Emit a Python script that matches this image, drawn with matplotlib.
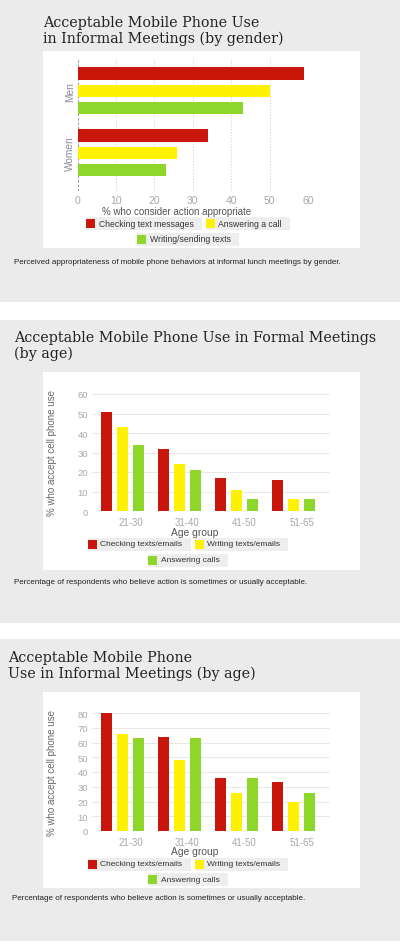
import numpy as np
import matplotlib
matplotlib.use('Agg')
import matplotlib.pyplot as plt
from matplotlib.patches import Rectangle

# data
genders = ['Men', 'Women']
gender_series = ['Checking text messages', 'Answering a call', 'Writing/sending texts']
checking_msgs = [59, 34]
answering_call = [50, 26]
writing_sending = [43, 23]

age_groups = ['21-30', '31-40', '41-50', '51-65']
age_series = ['Checking texts/emails', 'Writing texts/emails', 'Answering calls']
formal_checking = [51, 32, 17, 16]
formal_writing = [43, 24, 11, 6]
formal_calls = [34, 21, 6, 6]
informal_checking = [80, 64, 36, 33]
informal_writing = [66, 48, 26, 20]
informal_calls = [63, 63, 36, 26]

RED = '#c8170a'
YELLOW = '#fff200'
GREEN = '#8fd62a'
colors = [RED, YELLOW, GREEN]
PANEL_BG = '#ebebeb'
LEG_BG = '#eeeeee'
SANS = 'Liberation Sans'
SERIF = 'DejaVu Serif'

W, H = 400, 945
fig = plt.figure(figsize=(W / 100, H / 100), dpi=100)
fig.patch.set_facecolor('white')
renderer = fig.canvas.get_renderer()


def fx(px):
    return px / W


def fy(py):
    return 1 - py / H


def rect(x0, y0, x1, y1, color, z=-2):
    fig.patches.append(Rectangle((fx(x0), fy(y1)), (x1 - x0) / W, (y1 - y0) / H,
                                 transform=fig.transFigure, facecolor=color,
                                 edgecolor='none', zorder=z))


def axes_px(x0, y0, x1, y1):
    ax = fig.add_axes([fx(x0), fy(y1), (x1 - x0) / W, (y1 - y0) / H])
    ax.set_facecolor('none')
    for s in ax.spines.values():
        s.set_visible(False)
    return ax


def legend_rows(rows, cx, ys, fs):
    for row, yc in zip(rows, ys):
        widths = []
        for label, color in row:
            t = fig.text(0, 0, label, fontsize=fs, family=SANS)
            widths.append(12.5 + t.get_window_extent(renderer).width + 8)
            t.remove()
        total = sum(widths) + 4 * (len(row) - 1)
        x = cx - total / 2
        for (label, color), w in zip(row, widths):
            rect(x, yc - 6.5, x + w, yc + 6.5, LEG_BG, z=1)
            rect(x, yc - 4.5, x + 9, yc + 4.5, color, z=2)
            fig.text(fx(x + 12.5), fy(yc), label, fontsize=fs, family=SANS,
                     color='#333333', va='center', ha='left', zorder=3)
            x += w + 4


def title(lines, x, ys):
    for line, y in zip(lines, ys):
        fig.text(fx(x), fy(y), line, fontsize=10.3, family=SERIF,
                 color='#222222', va='baseline', ha='left')


def caption(text, x, y):
    fig.text(fx(x), fy(y), text, fontsize=5.8, family=SANS, color='#222222',
             va='center', ha='left')


# grey panels and white chart boxes
rect(0, 0, 400, 303, PANEL_BG)
rect(0, 321, 400, 624, PANEL_BG)
rect(0, 640, 400, 942, PANEL_BG)
rect(43, 52, 360, 249, 'white', z=-1)
rect(43, 373, 360, 571, 'white', z=-1)
rect(43, 693, 360, 889, 'white', z=-1)

# ---- panel 1: by gender, horizontal bars
title(['Acceptable Mobile Phone Use', 'in Informal Meetings (by gender)'], 43, [27, 42.5])
ax1 = axes_px(77.7, 60, 308, 192)
ypos = np.arange(len(genders))
slot = 0.282
for i, vals in enumerate([checking_msgs, answering_call, writing_sending]):
    ax1.barh(ypos + (i - 1) * slot, vals, height=0.194, color=colors[i], zorder=2)
ax1.set_xlim(0, 60)
ax1.set_ylim(1.613, -0.516)
ax1.set_xticks(range(0, 61, 10))
ax1.set_yticks(ypos)
ax1.set_yticklabels(genders, rotation=90, va='center', fontsize=7.3,
                    family=SANS, color='#8a8aa2')
for lab in ax1.get_xticklabels():
    lab.set_family(SANS)
ax1.tick_params(axis='x', length=0, pad=3, labelsize=7.5, labelcolor='#a8a8a8')
ax1.tick_params(axis='y', length=0, pad=2)
ax1.xaxis.grid(True, linestyle=(0, (1, 2)), color='#c8c8c8', lw=0.7)
ax1.set_axisbelow(True)
ax1.axvline(0, linestyle=(0, (2, 2)), color='#999999', lw=0.8, zorder=1)
fig.text(fx(177), fy(212), '% who consider action appropriate', fontsize=7,
         family=SANS, color='#555555', ha='center', va='center')
legend_rows([list(zip(gender_series[:2], colors[:2])), [(gender_series[2], colors[2])]],
            188, [224.5, 240], 6.2)
caption('Perceived appropriateness of mobile phone behaviors at informal lunch meetings by gender.',
        14, 262)


# ---- panels 2 and 3: by age, vertical bars
def age_panel(top, bottom, ymax, series_vals, leg_ys, xlab_y, ylab_y):
    ax = axes_px(92, top, 330, bottom)
    xpos = np.arange(len(age_groups))
    slot = 0.2807
    for i, vals in enumerate(series_vals):
        ax.bar(xpos + (i - 1.5) * slot, vals, width=0.193, color=colors[i], zorder=2)
    ax.set_xlim(-0.675, 3.5)
    ax.set_ylim(0, ymax)
    ax.set_yticks(range(0, ymax + 1, 10))
    ax.set_xticks(xpos)
    ax.set_xticklabels(age_groups)
    for lab in ax.get_xticklabels() + ax.get_yticklabels():
        lab.set_family(SANS)
    ax.tick_params(axis='x', length=0, pad=4, labelsize=7, labelcolor='#a8a8a8')
    ax.tick_params(axis='y', length=0, pad=3, labelsize=6.8, labelcolor='#a8a8a8')
    ax.yaxis.grid(True, color='#e4e4e4', lw=0.6)
    ax.set_axisbelow(True)
    ax.axhline(0, linestyle=(0, (2, 2)), color='#999999', lw=0.8, zorder=3)
    fig.text(fx(195), fy(xlab_y), 'Age group', fontsize=7.4, family=SANS,
             color='#555555', ha='center', va='center')
    fig.text(fx(52), fy(ylab_y), '% who accept cell phone use', fontsize=7,
             family=SANS, color='#666666', ha='center', va='center', rotation=90)
    legend_rows([list(zip(age_series[:2], colors[:2])), [(age_series[2], colors[2])]],
                188, leg_ys, 6.0)


title(['Acceptable Mobile Phone Use in Formal Meetings', '(by age)'], 14, [342, 358])
age_panel(395, 512, 60, [formal_checking, formal_writing, formal_calls],
          [545, 561], 533, 453.5)
caption('Percentage of respondents who believe action is sometimes or usually acceptable.',
        14, 583)

title(['Acceptable Mobile Phone', 'Use in Informal Meetings (by age)'], 8, [662, 678])
age_panel(714, 832, 80, [informal_checking, informal_writing, informal_calls],
          [865, 880.5], 852, 773)
caption('Percentage of respondents who believe action is sometimes or usually acceptable.',
        12, 899)

fig.savefig('out.png', dpi=100, facecolor=fig.get_facecolor())
